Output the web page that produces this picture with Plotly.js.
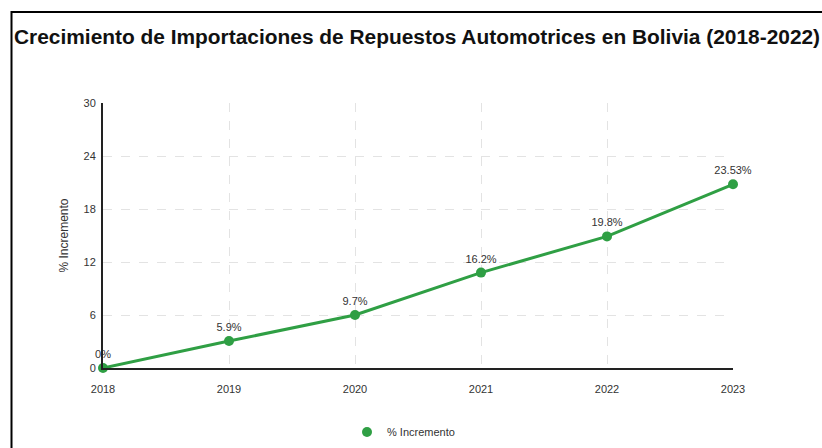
<!DOCTYPE html>
<html>
<head>
<meta charset="utf-8">
<script src="https://cdn.plot.ly/plotly-3.0.1.min.js"></script>
<style>
html,body{margin:0;padding:0;background:#fff;}
#chart{width:822px;height:448px;}
</style>
</head>
<body>
<div id="chart"></div>
<script>
// Data
const years = [2018, 2019, 2020, 2021, 2022, 2023];
const plottedValues = [0, 3.05, 6.0, 10.8, 14.9, 20.8];
const pointLabels = ["0%", "5.9%", "9.7%", "16.2%", "19.8%", "23.53%"];
const yTicks = [0, 6, 12, 18, 24, 30];
const seriesName = "% Incremento";

const green = "#2f9f44";

const trace = {
  x: years,
  y: plottedValues,
  text: pointLabels,
  type: "scatter",
  mode: "lines+markers+text",
  name: seriesName,
  showlegend: false,
  textposition: "top center",
  textfont: {family: "Liberation Sans, Arial, sans-serif", size: 11, color: "#333"},
  line: {color: green, width: 3},
  marker: {color: green, size: 10},
  cliponaxis: false
};

// legend entry (marker only, as in the reference)
const legendTrace = {
  x: [null],
  y: [null],
  type: "scatter",
  mode: "markers",
  name: seriesName,
  marker: {color: green, size: 10},
  showlegend: true
};

const layout = {
  width: 822,
  height: 448,
  margin: {l: 103, r: 89, t: 103, b: 80},
  paper_bgcolor: "#fff",
  plot_bgcolor: "#fff",
  font: {family: "Liberation Sans, Arial, sans-serif", color: "#333", size: 11},
  title: {
    text: "<b>Crecimiento de Importaciones de Repuestos Automotrices en Bolivia (2018-2022)</b>",
    font: {family: "Liberation Sans, Arial, sans-serif", size: 20.9, color: "#111"},
    x: 14/822, xanchor: "left", xref: "container",
    y: 1 - 36.5/448, yanchor: "middle", yref: "container"
  },
  xaxis: {
    type: "linear",
    range: [2018, 2023],
    tickvals: years,
    ticktext: years.map(String),
    showgrid: true,
    gridcolor: "#e3e3e3",
    griddash: "dash",
    gridwidth: 1,
    showline: true,
    linecolor: "#222",
    linewidth: 2,
    zeroline: false,
    ticks: "outside",
    ticklen: 10,
    tickcolor: "rgba(0,0,0,0)",
    tickfont: {size: 11, color: "#333"},
    automargin: false
  },
  yaxis: {
    range: [0, 30],
    tickvals: yTicks,
    showgrid: true,
    gridcolor: "#e3e3e3",
    griddash: "dash",
    gridwidth: 1,
    showline: true,
    linecolor: "#222",
    linewidth: 2,
    zeroline: false,
    ticks: "outside",
    ticklen: 3,
    tickcolor: "rgba(0,0,0,0)",
    tickfont: {size: 11, color: "#333"},
    title: {text: "% Incremento", font: {size: 12, color: "#333"}, standoff: 12},
    automargin: false
  },
  showlegend: true,
  legend: {
    orientation: "h",
    xref: "container", yref: "container",
    x: 347/822, xanchor: "left",
    y: 1 - 432/448, yanchor: "middle",
    font: {size: 11, color: "#333"},
    itemwidth: 30
  },
  shapes: [{
    type: "rect",
    xref: "paper", yref: "paper",
    x0: (11.5 - 103) / 630, x1: 1.3,
    y0: -0.5, y1: (368 - 12) / 265,
    line: {color: "#000", width: 2},
    layer: "above"
  }]
};

Plotly.newPlot("chart", [trace, legendTrace], layout, {displayModeBar: false, staticPlot: true});
</script>
</body>
</html>
